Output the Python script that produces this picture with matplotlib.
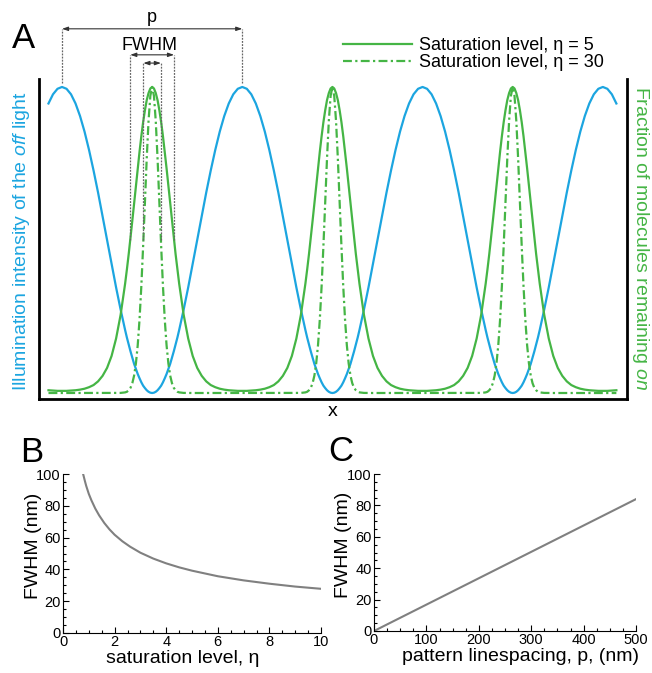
"""
Structured-illumination saturation figure: pattern (A), FWHM vs eta (B), FWHM vs p (C).
"""

import matplotlib

matplotlib.use("Agg")
import matplotlib.pyplot as plt
import numpy as np
from matplotlib.ticker import MultipleLocator


BLUE = "#1CA5E0"
GREEN = "#45B545"
GREY = "#808080"

# Panel A: one half period, from a peak of the off light (u=0) to its minimum (u=0.5),
# x in units of the line spacing p
half_u = [0.0, 0.025, 0.05, 0.075, 0.1, 0.125, 0.15, 0.175, 0.2, 0.225, 0.25,
          0.275, 0.3, 0.325, 0.35, 0.36, 0.37, 0.38, 0.39, 0.40, 0.41, 0.42,
          0.43, 0.44, 0.45, 0.46, 0.47, 0.48, 0.49, 0.50]
off_light = [1.0, 0.994, 0.976, 0.946, 0.905, 0.854, 0.794, 0.727, 0.655, 0.578,
             0.5, 0.422, 0.345, 0.273, 0.206, 0.181, 0.158, 0.136, 0.115, 0.095,
             0.078, 0.062, 0.048, 0.035, 0.024, 0.016, 0.009, 0.004, 0.001, 0.0]
on_eta5 = [0.007, 0.007, 0.008, 0.009, 0.011, 0.014, 0.019, 0.026, 0.038, 0.056,
           0.082, 0.121, 0.178, 0.255, 0.357, 0.404, 0.454, 0.508, 0.563, 0.620,
           0.678, 0.734, 0.788, 0.839, 0.885, 0.924, 0.957, 0.980, 0.995, 1.0]
on_eta30 = [0.0, 0.0, 0.0, 0.0, 0.0, 0.0, 0.0, 0.0, 0.0, 0.0,
            0.0, 0.0, 0.0, 0.0003, 0.002, 0.004, 0.009, 0.017, 0.032, 0.057,
            0.097, 0.156, 0.240, 0.349, 0.480, 0.624, 0.767, 0.889, 0.971, 1.0]
periods = [-1, 0, 1, 2, 3]
x_start, x_end = -0.075, 3.075

# Panel B
eta = [0.78, 0.85, 0.9, 1.0, 1.1, 1.25, 1.4, 1.6, 1.8, 2.0, 2.3, 2.6, 3.0, 3.5,
       4.0, 4.5, 5.0, 6.0, 7.0, 8.0, 9.0, 10.0]
fwhm_eta = [100, 95.5, 92.5, 87.5, 83.5, 78.3, 74.0, 69.2, 65.2, 61.8, 57.7,
            54.3, 50.5, 46.8, 43.8, 41.3, 39.2, 35.7, 33.1, 31.0, 29.2, 27.8]

# Panel C
linespacing = [0, 500]
fwhm_p = [0, 84]


def tile(values):
    """Mirror a half period into a full one and repeat it over the periods."""
    u = np.array(half_u)
    v = np.array(values)
    u_full = np.concatenate([u, 1 - u[::-1][1:]])
    v_full = np.concatenate([v, v[::-1][1:]])
    xs = np.concatenate([k + u_full[:-1] for k in periods])
    ys = np.concatenate([v_full[:-1] for _ in periods])
    keep = (xs >= x_start - 1e-9) & (xs <= x_end + 1e-9)
    return xs[keep], ys[keep]


def configure_matplotlib():
    plt.rcParams.update(
        {
            "font.family": "Liberation Sans",
            "mathtext.fontset": "custom",
            "mathtext.rm": "Liberation Sans",
            "mathtext.it": "Liberation Sans:italic",
            "axes.linewidth": 0.8,
        }
    )


def half_max_edges(values):
    # rising flank of the peak centred on u = 0.5
    lo = float(np.interp(0.5, values, half_u))
    return lo, 1 - lo


def draw_pattern(fig):
    ax = fig.add_axes([39 / 652, 1 - 399 / 673, 588 / 652, 320 / 673])
    xs, ys = tile(off_light)
    ax.plot(xs, ys, color=BLUE, lw=1.6)
    xs, ys = tile(on_eta5)
    ax.plot(xs, ys, color=GREEN, lw=1.6, label="Saturation level, η = 5")
    xs, ys = tile(on_eta30)
    ax.plot(xs, ys, color=GREEN, lw=1.6, ls=(0, (4, 1.5, 1, 1.5)),
            label="Saturation level, η = 30")

    ax.set_xlim(-0.1276, 3.134)
    ax.set_ylim(-0.0196, 1.026)
    ax.spines["top"].set_visible(False)
    for side in ("left", "right", "bottom"):
        ax.spines[side].set_linewidth(2.0)
    ax.set_xticks([])
    ax.set_yticks([])
    ax.set_xlabel("x", fontsize=14, labelpad=3)

    # p and FWHM markers above the first period
    arrow = dict(arrowstyle="<|-|>,head_length=0.35,head_width=0.12", color="#333333",
                 lw=0.8, shrinkA=0, shrinkB=0, mutation_scale=10)
    guide = dict(color="#666666", lw=0.9, ls=(0, (1.5, 1)), clip_on=False)
    p_y = 1.19
    for x0 in (0, 1):
        ax.plot([x0, x0], [1.013, p_y], **guide)
    ax.annotate("", xy=(0, p_y), xytext=(1, p_y), arrowprops=arrow, annotation_clip=False)
    ax.text(0.5, 1.212, "p", ha="center", va="baseline", fontsize=13)

    for values, y in ((on_eta5, 1.105), (on_eta30, 1.078)):
        lo, hi = half_max_edges(values)
        for x0 in (lo, hi):
            ax.plot([x0, x0], [0.5, y], **guide)
        ax.annotate("", xy=(lo, y), xytext=(hi, y), arrowprops=arrow,
                    annotation_clip=False)
    ax.text(0.485, 1.121, "FWHM", ha="center", va="baseline", fontsize=13)

    ax.legend(
        loc="upper left",
        bbox_to_anchor=(343 / 652, 1 - 37 / 673),
        bbox_transform=fig.transFigure,
        frameon=False,
        fontsize=13,
        handlelength=3.8,
        handletextpad=0.4,
        labelspacing=0.0,
        borderpad=0,
        borderaxespad=0,
    )

    fig.text(22 / 652, 1 - 241 / 673, r"Illumination intensity of the $\mathit{off}$ light",
             color=BLUE, fontsize=14, rotation=90, ha="center", va="center")
    fig.text(640 / 652, 1 - 238 / 673, r"Fraction of molecules remaining $\mathit{on}$",
             color=GREEN, fontsize=14, rotation=270, ha="center", va="center")


def style_small(ax, xmax, xminor, xlabel, xlabel_x, ylabel_xy):
    ax.set_xlim(0, xmax)
    ax.set_ylim(0, 100)
    ax.set_yticks([0, 20, 40, 60, 80, 100])
    ax.xaxis.set_minor_locator(MultipleLocator(xminor))
    ax.yaxis.set_minor_locator(MultipleLocator(5))
    ax.tick_params(which="both", direction="in", width=0.8, labelsize=10.5, pad=1.5)
    ax.tick_params(which="major", length=4)
    ax.tick_params(which="minor", length=2)
    ax.spines["top"].set_visible(False)
    ax.spines["right"].set_visible(False)
    ax.set_xlabel(xlabel, fontsize=14)
    ax.xaxis.set_label_coords(xlabel_x, -0.11)
    ax.set_ylabel("FWHM (nm)", fontsize=14)
    ax.yaxis.set_label_coords(*ylabel_xy)


def main():
    configure_matplotlib()
    fig = plt.figure(figsize=(6.52, 6.73), dpi=100)

    draw_pattern(fig)

    ax_b = fig.add_axes([63 / 652, 1 - 633 / 673, 258 / 652, 159 / 673])
    ax_b.plot(eta, fwhm_eta, color=GREY, lw=1.5)
    style_small(ax_b, 10, 0.5, "saturation level, η", 0.465, (-0.08, 0.55))
    ax_b.set_xticks([0, 2, 4, 6, 8, 10])

    ax_c = fig.add_axes([374 / 652, 1 - 631 / 673, 262 / 652, 157 / 673])
    ax_c.plot(linespacing, fwhm_p, color=GREY, lw=1.5)
    style_small(ax_c, 500, 25, "pattern linespacing, p, (nm)", 0.559, (-0.085, 0.55))
    ax_c.set_xticks([0, 100, 200, 300, 400, 500])

    fig.text(12 / 652, 1 - 48 / 673, "A", fontsize=25, va="baseline")
    fig.text(20 / 652, 1 - 462 / 673, "B", fontsize=25, va="baseline")
    fig.text(328 / 652, 1 - 461 / 673, "C", fontsize=25, va="baseline")

    fig.savefig("out.png", dpi=100)
    plt.close(fig)


if __name__ == "__main__":
    main()
